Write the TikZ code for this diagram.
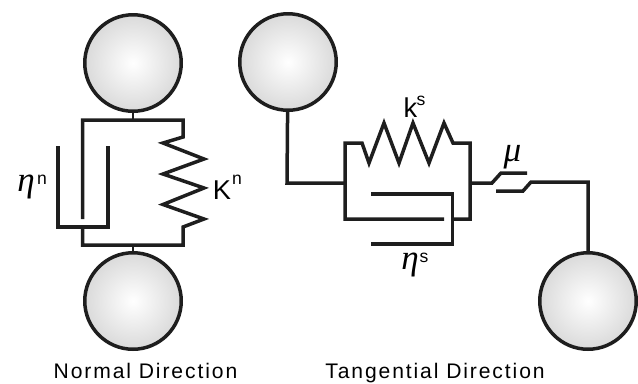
\documentclass[tikz,border=0pt]{standalone}
\usepackage{amsmath}
\usepackage{xcolor}
\usepackage{fontspec}
\setmainfont{Liberation Sans}
\newfontfamily\capfont[LetterSpace=9]{Liberation Sans}
\newfontfamily\greekfont{Liberation Serif}
\usetikzlibrary{positioning}
\definecolor{linecolor}{RGB}{30, 30, 30}
\definecolor{ballrim}{RGB}{218, 218, 218}
\begin{document}
\begin{tikzpicture}[x=0.02cm, y=-0.02cm,
    ball/.style={circle, draw=linecolor, line width=0.07cm, minimum size=1.93cm, inner sep=0pt, inner color=white, outer color=ballrim},
    wire/.style={draw=linecolor, line width=0.07cm, line cap=butt, miter limit=10},
    thinwire/.style={draw=linecolor, line width=0.05cm},
    greek/.style={font=\greekfont\itshape\fontsize{20}{22}\selectfont, inner sep=0pt},
    letter/.style={font=\fontsize{15.5}{18}\selectfont, inner sep=0pt, anchor=base},
    sups/.style={font=\fontsize{10}{12}\selectfont, inner sep=0pt, anchor=base},
    dirlabel/.style={font=\capfont\fontsize{12}{14}\selectfont, inner sep=0pt, anchor=base}]
    \useasboundingbox (0,0) rectangle (638,383);

    % Balls
    \node[ball] (topn) at (133,63) {};
    \node[ball] (botn) at (133,301) {};
    \node[ball] (topt) at (288,62) {};
    \node[ball] (bott) at (588,301) {};

    % Normal direction
    \coordinate (ntop) at (133,120);
    \coordinate (nbot) at (133,245);
    \coordinate (nleft) at (82.7,120);
    \coordinate (nright) at (183,120);
    \draw[thinwire] (topn) -- (ntop);
    \draw[thinwire] (nbot) -- (botn);
    \draw[wire] (82.7,219) -- (nleft) -- (nright) -- (183,137) -- (163,143) -- (204,159) -- (163,174) -- (204,188) -- (163,204.5) -- (204,219) -- (183,227) -- (183,245) -- (nbot) -- (82.7,245) -- (82.7,227);
    \draw[wire] (58,146) -- (58,227) -- (108,227) -- (108,146);

    % Tangential direction
    \coordinate (tjoin) at (287,183);
    \coordinate (tleft) at (345,183);
    \coordinate (tright) at (470,183);
    \draw[wire] (topt) -- (tjoin) -- (tleft);
    \draw[wire] (444,219) -- (345,219) -- (345,143) -- (362,143) -- (369,163) -- (384,123) -- (399,163) -- (413,123) -- (429,163) -- (444,123) -- (453,143) -- (470,143) -- (470,219) -- (452.5,219);
    \draw[wire] (371,194) -- (452.5,194) -- (452.5,244) -- (371,244);

    % Friction slider
    \coordinate (slide) at (588,182);
    \draw[wire] (tright) -- (492,183) -- (501,173) -- (527,173);
    \draw[wire] (496,191) -- (523,191) -- (531,182) -- (slide) -- (bott);

    % Labels
    \node[greek] (etan) at (26,187) {η};
    \node[sups] (etansup) at (42,184) {n};
    \node[letter] (kn) at (222,199) {K};
    \node[sups] (knsup) at (237,184) {n};
    \node[letter] (ks) at (410.5,117) {k};
    \node[sups] (kssup) at (421,105) {s};
    \node[greek] (mu) at (512.5,157) {μ};
    \node[greek] (etas) at (410,264.5) {η};
    \node[sups] (etassup) at (424,262) {s};

    % Captions
    \node[dirlabel] (normal) at (145.5,378) {Normal Direction};
    \node[dirlabel] (tangent) at (435,378) {Tangential Direction};
\end{tikzpicture}
\end{document}
